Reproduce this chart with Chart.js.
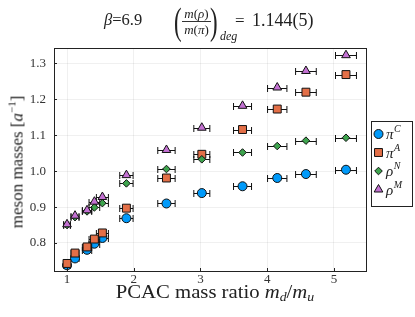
<!DOCTYPE html>
<html><head><meta charset="utf-8">
<script src="https://cdn.jsdelivr.net/npm/chart.js@4.4.0/dist/chart.umd.min.js"></script>
<style>
body{margin:0;background:#fff;}
#wrap{position:relative;width:415px;height:317px;font-family:'Liberation Serif',serif;color:#222;overflow:hidden;}
canvas{position:absolute;left:0;top:0;}
.t{position:absolute;white-space:nowrap;line-height:1;}
i{font-style:italic;}
</style></head><body>
<div id="wrap">
<canvas id="c" width="415" height="317"></canvas>
<div class="t" style="left:104px;top:12px;font-size:16.5px;"><i>β</i>=6.9</div>
<div class="t" style="left:174px;top:2px;font-size:38px;transform:scaleX(0.6);transform-origin:left top;">(</div>
<div class="t" style="left:182px;top:7px;width:29px;text-align:center;font-size:13px;"><i>m</i>(<i>ρ</i>)</div>
<div class="t" style="left:182px;top:21px;width:29px;border-top:1px solid #333;"></div>
<div class="t" style="left:182px;top:23px;width:29px;text-align:center;font-size:13px;"><i>m</i>(<i>π</i>)</div>
<div class="t" style="left:210px;top:2px;font-size:38px;transform:scaleX(0.6);transform-origin:left top;">)</div>
<div class="t" style="left:220px;top:30px;font-size:12px;"><i>deg</i></div>
<div class="t" style="left:235px;top:12px;font-size:17px;">=</div>
<div class="t" style="left:252px;top:11px;font-size:18px;">1.144(5)</div>
<div class="t" style="left:215px;top:283px;font-size:18px;transform:translateX(-50%) scaleX(1.15);">PCAC mass ratio <i>m<sub style="font-size:12px;vertical-align:-3px;">d</sub></i>/<i>m<sub style="font-size:12px;vertical-align:-3px;">u</sub></i></div>
<div class="t" style="left:16px;top:162px;font-size:17px;transform:translate(-50%,-50%) rotate(-90deg);">meson masses [<i>a</i><sup style="font-size:11px;vertical-align:7px;">−1</sup>]</div>
</div>
<script>
const massRatio    = [1.00, 1.12, 1.30, 1.41, 1.53, 1.89, 2.49, 3.02, 3.63, 4.15, 4.58, 5.18];
const massRatioErr = [0.05, 0.06, 0.07, 0.08, 0.09, 0.10, 0.13, 0.12, 0.135, 0.145, 0.155, 0.157];
const piC  = [0.738, 0.757, 0.781, 0.798, 0.814, 0.869, 0.910, 0.939, 0.958, 0.981, 0.992, 1.004];
const piA  = [0.743, 0.772, 0.789, 0.811, 0.828, 0.897, 0.981, 1.047, 1.116, 1.173, 1.220, 1.269];
const rhoN = [0.850, 0.872, 0.888, 0.899, 0.911, 0.966, 1.006, 1.033, 1.052, 1.070, 1.085, 1.093];
const rhoM = [0.852, 0.876, 0.891, 0.915, 0.928, 0.989, 1.059, 1.121, 1.182, 1.233, 1.279, 1.323];
const xTicks = [1, 2, 3, 4, 5];
const yTicks = [0.8, 0.9, 1.0, 1.1, 1.2, 1.3];
const seriesNames = ['π', 'π', 'ρ', 'ρ'];
const seriesSup = ['C', 'A', 'N', 'M'];

const colors = ['#009AFA', '#E36F47', '#3EA44E', '#C371D2'];
const styles = ['circle', 'rect', 'rectRot', 'triangle'];
const radii = [4.5, 5.6, 3.8, 5.0];
const allY = [piC, piA, rhoN, rhoM];

const datasets = allY.map((ys, k) => ({
  label: seriesNames[k] + seriesSup[k],
  data: massRatio.map((x, i) => ({x: x, y: ys[i]})),
  backgroundColor: colors[k],
  borderColor: '#111',
  borderWidth: 1,
  pointStyle: styles[k],
  pointRadius: radii[k],
  pointHoverRadius: radii[k],
  order: 4 - k,
  showLine: false
}));

const errPlugin = {
  id: 'err',
  beforeDatasetDraw(chart, args) {
    const ctx = chart.ctx, xs = chart.scales.x, ys = chart.scales.y;
    const ds = chart.data.datasets[args.index];
    ctx.save();
    ctx.strokeStyle = '#111';
    ctx.lineWidth = 1;
    ds.data.forEach((p, i) => {
      const e = massRatioErr[i];
      const x0 = xs.getPixelForValue(p.x - e), x1 = xs.getPixelForValue(p.x + e);
      const y = Math.round(ys.getPixelForValue(p.y)) + 0.5;
      ctx.beginPath();
      ctx.moveTo(x0, y); ctx.lineTo(x1, y);
      ctx.moveTo(x0, y - 3.5); ctx.lineTo(x0, y + 3.5);
      ctx.moveTo(x1, y - 3.5); ctx.lineTo(x1, y + 3.5);
      ctx.stroke();
    });
    ctx.restore();
  }
};

const framePlugin = {
  id: 'frame',
  afterDatasetsDraw(chart) {
    const ctx = chart.ctx, a = chart.chartArea;
    const xs = chart.scales.x, ys = chart.scales.y;
    ctx.save();
    ctx.strokeStyle = '#222';
    ctx.lineWidth = 1;
    ctx.strokeRect(Math.round(a.left) + 0.5, Math.round(a.top) + 0.5, Math.round(a.right - a.left), Math.round(a.bottom - a.top));
    ctx.beginPath();
    xTicks.forEach(v => {
      const px = Math.round(xs.getPixelForValue(v)) + 0.5;
      ctx.moveTo(px, a.bottom); ctx.lineTo(px, a.bottom - 3);
    });
    yTicks.forEach(v => {
      const py = Math.round(ys.getPixelForValue(v)) + 0.5;
      ctx.moveTo(a.left, py); ctx.lineTo(a.left + 3, py);
    });
    ctx.stroke();
    ctx.restore();
  },
  afterDraw(chart) {
    const ctx = chart.ctx;
    ctx.save();
    const bx = 371.5, by = 121.5, bw = 41, bh = 85;
    ctx.fillStyle = '#fff';
    ctx.fillRect(bx, by, bw, bh);
    ctx.strokeStyle = '#222';
    ctx.lineWidth = 1;
    ctx.strokeRect(bx, by, bw, bh);
    const rowY = [134, 152.5, 171, 189.5];
    for (let k = 0; k < 4; k++) {
      ctx.fillStyle = colors[k];
      ctx.strokeStyle = '#111';
      ctx.lineWidth = 1;
      Chart.helpers.drawPoint(ctx, {pointStyle: styles[k], radius: radii[k], rotation: 0, borderWidth: 1}, 378.5, rowY[k]);
      ctx.fillStyle = '#222';
      ctx.textBaseline = 'alphabetic';
      ctx.font = 'italic 15px "Liberation Serif"';
      ctx.fillText(seriesNames[k], 386, rowY[k] + 5);
      const w = ctx.measureText(seriesNames[k]).width;
      ctx.font = 'italic 10px "Liberation Serif"';
      ctx.fillText(seriesSup[k], 386 + w + 0.5, rowY[k] - 2);
    }
    ctx.restore();
  }
};

new Chart(document.getElementById('c'), {
  type: 'scatter',
  data: {datasets: datasets},
  options: {
    responsive: false,
    animation: false,
    events: [],
    layout: {padding: {left: 0, right: 49, top: 48, bottom: 0}},
    plugins: {legend: {display: false}, tooltip: {enabled: false}, title: {display: false}},
    scales: {
      x: {
        type: 'linear', min: 0.805, max: 5.48,
        afterBuildTicks: s => { s.ticks = xTicks.map(v => ({value: v})); },
        afterFit: s => { s.height = 46; },
        ticks: {color: '#333', font: {family: 'Liberation Serif', size: 13}, padding: 1, maxRotation: 0,
          callback: v => String(v)},
        grid: {color: 'rgba(0,0,0,0.1)', lineWidth: 0.6, drawTicks: false},
        border: {display: false}
      },
      y: {
        type: 'linear', min: 0.722, max: 1.343,
        afterBuildTicks: s => { s.ticks = yTicks.map(v => ({value: v})); },
        afterFit: s => { s.width = 54; },
        ticks: {color: '#333', font: {family: 'Liberation Serif', size: 13}, padding: 8,
          callback: v => Number(v).toFixed(1)},
        grid: {color: 'rgba(0,0,0,0.1)', lineWidth: 0.6, drawTicks: false},
        border: {display: false}
      }
    }
  },
  plugins: [errPlugin, framePlugin]
});
</script>
</body></html>
